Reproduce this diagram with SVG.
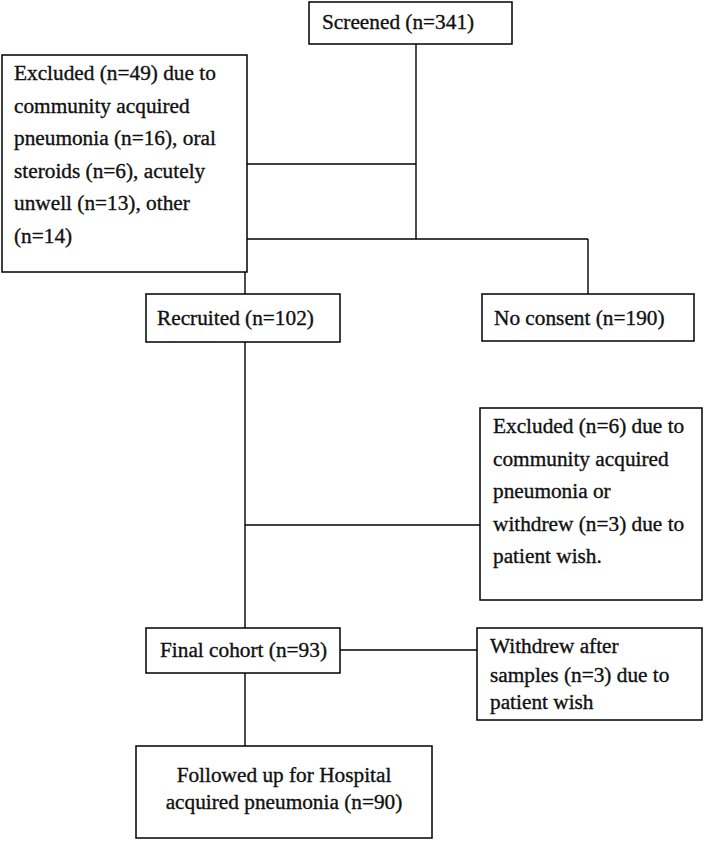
<svg xmlns="http://www.w3.org/2000/svg" width="706" height="847" viewBox="0 0 706 847">
<style>
.box{fill:#fff;stroke:#000;stroke-width:1.5}
.ln{stroke:#000;stroke-width:1.4;fill:none}
text{font-family:"Liberation Serif","Times New Roman",serif;font-size:21.3px;fill:#111;stroke:#111;stroke-width:0.35}
.c{text-anchor:middle}
</style>
<rect width="706" height="847" fill="#fff"/>
<g id="connectors">
<line class="ln" x1="416" y1="44" x2="416" y2="239"/>
<line class="ln" x1="247" y1="164" x2="416" y2="164"/>
<line class="ln" x1="245" y1="239" x2="588" y2="239"/>
<line class="ln" x1="245" y1="239" x2="245" y2="294"/>
<line class="ln" x1="588" y1="239" x2="588" y2="294"/>
<line class="ln" x1="245" y1="342" x2="245" y2="628"/>
<line class="ln" x1="245" y1="525" x2="480" y2="525"/>
<line class="ln" x1="340" y1="650" x2="477" y2="650"/>
<line class="ln" x1="245" y1="673" x2="245" y2="746"/>
</g>
<g id="screened">
<rect class="box" x="309" y="2" width="203" height="42"/>
<text x="322" y="29">Screened (n=341)</text>
</g>
<g id="excluded1">
<rect class="box" x="2" y="55" width="245" height="217"/>
<text x="14" y="80">Excluded (n=49) due to</text>
<text x="14" y="113">community acquired</text>
<text x="14" y="145">pneumonia (n=16), oral</text>
<text x="14" y="178">steroids (n=6), acutely</text>
<text x="14" y="210">unwell (n=13), other</text>
<text x="14" y="243">(n=14)</text>
</g>
<g id="recruited">
<rect class="box" x="146" y="294" width="194" height="48"/>
<text x="157" y="325">Recruited (n=102)</text>
</g>
<g id="noconsent">
<rect class="box" x="482" y="294" width="212" height="47"/>
<text x="494" y="325">No consent (n=190)</text>
</g>
<g id="excluded2">
<rect class="box" x="480" y="408" width="222" height="192"/>
<text x="493" y="433">Excluded (n=6) due to</text>
<text x="493" y="466">community acquired</text>
<text x="493" y="498">pneumonia or</text>
<text x="493" y="531">withdrew (n=3) due to</text>
<text x="493" y="563">patient wish.</text>
</g>
<g id="finalcohort">
<rect class="box" x="146" y="628" width="194" height="45"/>
<text x="160" y="657">Final cohort (n=93)</text>
</g>
<g id="withdrew">
<rect class="box" x="477" y="628" width="225" height="92"/>
<text x="490" y="653">Withdrew after</text>
<text x="490" y="682">samples (n=3) due to</text>
<text x="490" y="709">patient wish</text>
</g>
<g id="followed">
<rect class="box" x="136" y="746" width="296" height="92"/>
<text class="c" x="284" y="782">Followed up for Hospital</text>
<text class="c" x="284" y="809">acquired pneumonia (n=90)</text>
</g>
</svg>
